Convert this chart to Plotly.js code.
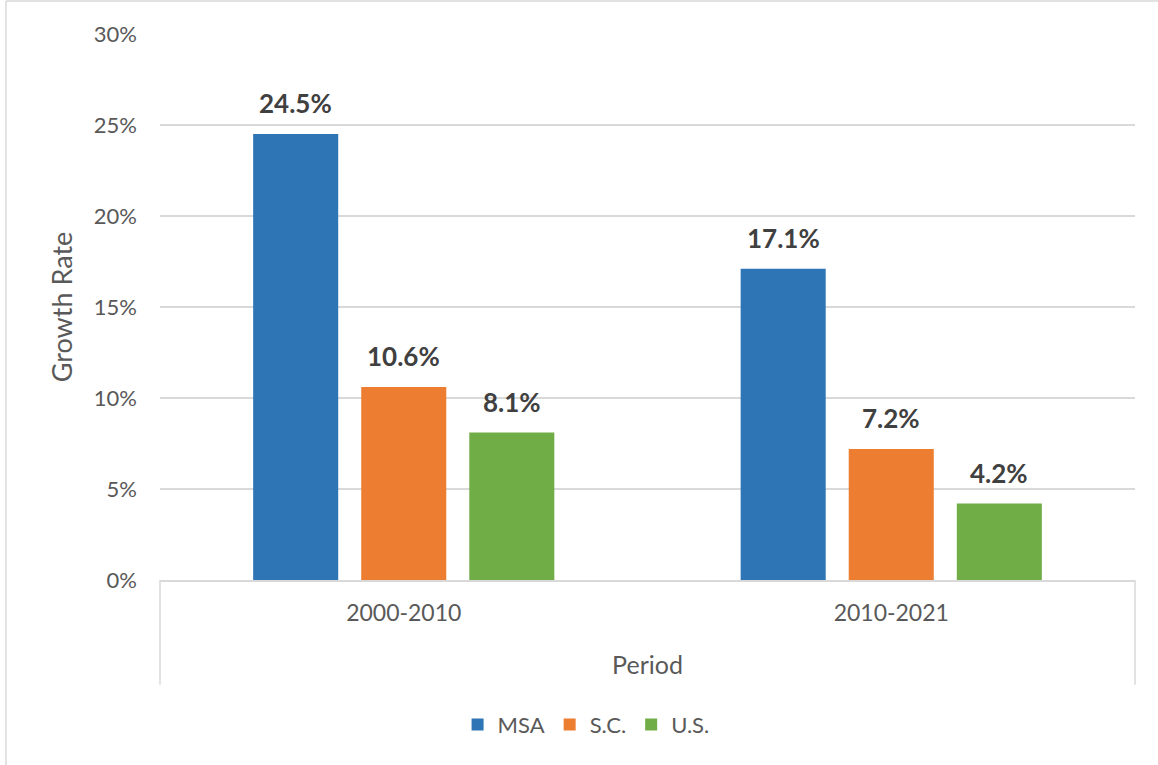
<!DOCTYPE html>
<html>
<head>
<meta charset="utf-8">
<script src="https://cdn.plot.ly/plotly-3.0.1.min.js"></script>
<style>html,body{margin:0;padding:0;background:#fff;}#chart{width:1158px;height:765px;}</style>
</head>
<body>
<div id="chart"></div>
<script>
const periods = ["2000-2010", "2010-2021"];
const seriesNames = ["MSA", "S.C.", "U.S."];
const msa = [24.5, 17.1];
const sc = [10.6, 7.2];
const us = [8.1, 4.2];
const seriesValues = [msa, sc, us];
const colors = ["#2E75B6", "#ED7D31", "#70AD47"];
const yTicks = [0, 5, 10, 15, 20, 25, 30];
const yTickLabels = ["0%", "5%", "10%", "15%", "20%", "25%", "30%"];

const font = "Lato, 'Open Sans', sans-serif";

const traces = seriesNames.map((name, i) => ({
  type: "bar",
  name: name,
  x: periods,
  y: seriesValues[i],
  marker: {color: colors[i]},
  hoverinfo: "skip"
}));

// data labels as annotations, shifted onto each bar within its group
const slotPx = 108;
const annotations = [];
seriesValues.forEach((vals, i) => {
  vals.forEach((v, j) => {
    annotations.push({
      x: periods[j], y: v, xref: "x", yref: "y",
      text: "<b>" + v.toFixed(1) + "%</b>",
      showarrow: false, yanchor: "middle", yshift: 31,
      xshift: (i - 1) * slotPx,
      font: {family: font, size: 26, color: "#404040"}
    });
  });
});

const shapes = [
  // category axis edge ticks (Excel style)
  {type: "line", xref: "paper", yref: "paper", x0: 0, x1: 0, y0: 0, y1: -0.192, line: {color: "#d9d9d9", width: 1.5}},
  {type: "line", xref: "paper", yref: "paper", x0: 1, x1: 1, y0: 0, y1: -0.192, line: {color: "#d9d9d9", width: 1.5}},
  // chart border
  {type: "line", xref: "paper", yref: "paper", x0: -0.158, x1: 1.1, y0: 1.0605, y1: 1.0605, line: {color: "#d9d9d9", width: 1.5}},
  {type: "line", xref: "paper", yref: "paper", x0: -0.158, x1: -0.158, y0: 1.0605, y1: -0.34, line: {color: "#d9d9d9", width: 1.5}}
];

const layout = {
  width: 1158, height: 765,
  margin: {l: 160, r: 23, t: 34, b: 185},
  paper_bgcolor: "#fff", plot_bgcolor: "#fff",
  font: {family: font, color: "#595959", size: 22},
  barmode: "group",
  bargap: 0.335,
  bargroupgap: 0.213,
  showlegend: true,
  legend: {
    orientation: "h", x: 0.437, xanchor: "center", y: -0.265, yanchor: "middle",
    font: {family: font, size: 22, color: "#595959"},
    traceorder: "normal"
  },
  xaxis: {
    type: "category",
    showgrid: false,
    showline: true, linecolor: "#d9d9d9", linewidth: 1.5,
    ticks: "", ticklabelstandoff: 12,
    tickfont: {family: font, size: 23, color: "#595959"},
    title: {text: "Period", font: {family: font, size: 25, color: "#595959"}, standoff: 31},
    fixedrange: true
  },
  yaxis: {
    range: [0, 30],
    tickvals: yTicks, ticktext: yTickLabels,
    showgrid: true, gridcolor: "#d9d9d9", gridwidth: 1.5,
    zeroline: false, showline: false,
    ticks: "", ticklabelstandoff: 22,
    tickfont: {family: font, size: 22, color: "#595959"},
    title: {text: "Growth Rate", font: {family: font, size: 27, color: "#595959"}, standoff: 13},
    fixedrange: true
  },
  annotations: annotations,
  shapes: shapes
};

Plotly.newPlot("chart", traces, layout, {displayModeBar: false, staticPlot: true});
</script>
</body>
</html>
